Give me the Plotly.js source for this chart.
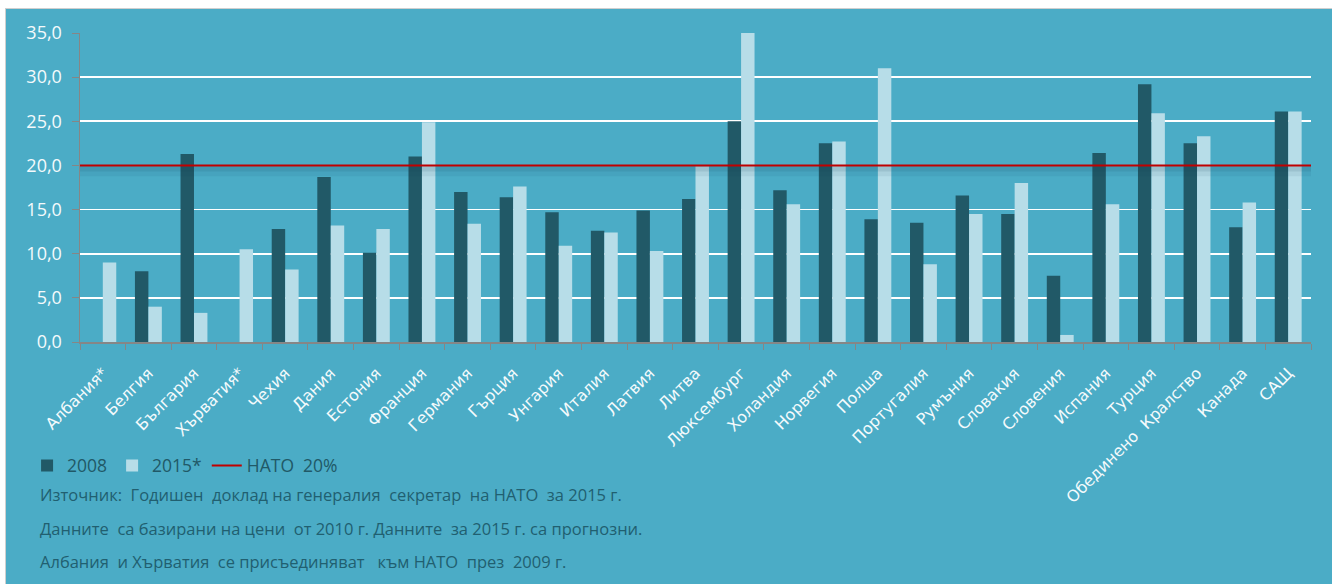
<!DOCTYPE html>
<html>
<head>
<meta charset="utf-8">
<script src="https://cdn.plot.ly/plotly-3.0.1.min.js"></script>
<style>
  html, body { margin: 0; padding: 0; background: #ffffff; width: 1332px; height: 584px; overflow: hidden; }
  #frame { position: absolute; left: 5px; top: 8px; width: 1327px; height: 576px; border-top: 1px solid #cfcfcf; border-left: 1px solid #cfcfcf; }
  #chart { position: absolute; left: 0; top: 0; width: 1327px; height: 576px; }
</style>
</head>
<body>
<div id="frame"><div id="chart"></div></div>
<script>
const countries = ["Албания*", "Белгия", "България", "Хърватия*", "Чехия", "Дания", "Естония", "Франция", "Германия", "Гърция", "Унгария", "Италия", "Латвия", "Литва", "Люксембург", "Холандия", "Норвегия", "Полша", "Португалия", "Румъния", "Словакия", "Словения", "Испания", "Турция", "Обединено  Кралство", "Канада", "САЩ"];
const values2008 = [0, 8.0, 21.3, 0, 12.8, 18.7, 10.1, 21.0, 17.0, 16.4, 14.7, 12.6, 14.9, 16.2, 25.0, 17.2, 22.5, 13.9, 13.5, 16.6, 14.5, 7.5, 21.4, 29.2, 22.5, 13.0, 26.1];
const values2015 = [9.0, 4.0, 3.3, 10.5, 8.2, 13.2, 12.8, 24.9, 13.4, 17.6, 10.9, 12.4, 10.3, 19.9, 35.0, 15.6, 22.7, 31.0, 8.8, 14.5, 18.0, 0.8, 15.6, 25.9, 23.3, 15.8, 26.1];
const natoTarget = 20;
const seriesNames = ["2008", "2015*", "НАТО  20%"];
const yTicks = [0, 5, 10, 15, 20, 25, 30, 35];
const notes = [
  "Източник:  Годишен  доклад на генералия  секретар  на НАТО  за 2015 г.",
  "Данните  са базирани на цени  от 2010 г. Данните  за 2015 г. са прогнозни.",
  "Албания  и Хърватия  се присъединяват   към НАТО  през  2009 г."
];

const dark = "#215967";
const light = "#B7DDE8";
const bg = "#4BACC6";

const lineX = [-0.007, 1];
const traces = [
  { type: "bar", name: seriesNames[0], x: countries, y: values2008, marker: { color: dark, line: { width: 0 } }, hoverinfo: "x+y" },
  { type: "bar", name: seriesNames[1], x: countries, y: values2015, marker: { color: light, line: { width: 0 } }, hoverinfo: "x+y" },
  { type: "scatter", mode: "lines", name: "shadow1", showlegend: false, xaxis: "x2", yaxis: "y",
    x: lineX, y: [natoTarget - 0.6, natoTarget - 0.6], line: { color: "rgba(20,60,80,0.07)", width: 11 }, hoverinfo: "skip" },
  { type: "scatter", mode: "lines", name: "shadow2", showlegend: false, xaxis: "x2", yaxis: "y",
    x: lineX, y: [natoTarget - 0.4, natoTarget - 0.4], line: { color: "rgba(20,60,80,0.10)", width: 5 }, hoverinfo: "skip" },
  { type: "scatter", mode: "lines", name: seriesNames[2], xaxis: "x2", yaxis: "y",
    x: lineX, y: [natoTarget, natoTarget], line: { color: "#C00000", width: 2 }, hoverinfo: "skip" }
];

const layout = {
  width: 1327, height: 576,
  paper_bgcolor: bg, plot_bgcolor: bg,
  margin: { l: 74, r: 22, t: 24, b: 243, pad: 0 },
  separators: ", ",
  barmode: "group",
  bargap: 0.41,
  bargroupgap: 0,
  showlegend: true,
  legend: {
    orientation: "h", x: -0.043, xanchor: "left", y: -0.40, yanchor: "middle",
    font: { family: "Open Sans, DejaVu Sans, sans-serif", size: 17.5, color: dark },
    bgcolor: "rgba(0,0,0,0)", itemwidth: 30, traceorder: "normal"
  },
  xaxis: {
    type: "category",
    tickangle: -45,
    tickfont: { family: "DejaVu Sans, Open Sans, sans-serif", size: 16, color: "#F4FAFC" },
    showline: true, linecolor: "#868686", linewidth: 1.5,
    ticks: "outside", tickson: "boundaries", ticklen: 6, tickcolor: "#868686",
    ticklabelstandoff: 14,
    showgrid: false, zeroline: false, fixedrange: true
  },
  xaxis2: {
    overlaying: "x", range: [0, 1], visible: false, fixedrange: true
  },
  yaxis: {
    range: [0, 35], tickvals: yTicks, tickformat: ".1f",
    tickfont: { family: "Open Sans, DejaVu Sans, sans-serif", size: 18, color: "#F4FAFC" },
    showline: true, linecolor: "#868686", linewidth: 1.5,
    ticks: "outside", ticklen: 7, tickcolor: "#868686",
    ticklabelstandoff: 6,
    showgrid: true, gridcolor: "#FFFFFF", gridwidth: 1.6,
    zeroline: false, fixedrange: true
  },
  annotations: notes.map((t, i) => ({
    text: t, xref: "paper", yref: "paper", x: -0.034, y: [-0.492, -0.602, -0.709][i],
    xanchor: "left", yanchor: "middle", showarrow: false,
    font: { family: "Open Sans, sans-serif", size: 16.5, color: "#215F70" }
  }))
};

Plotly.newPlot("chart", traces, layout, { displayModeBar: false, staticPlot: true });
</script>
</body>
</html>
